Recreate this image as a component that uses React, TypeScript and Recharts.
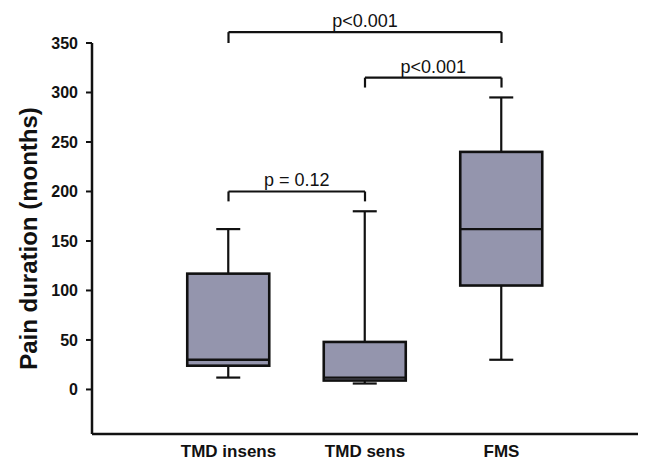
import { ComposedChart, Bar, XAxis, YAxis, ReferenceLine, Label } from "recharts";

// box plot summary per group (months)
const groups = ["TMD insens", "TMD sens", "FMS"];
const whiskerLow = [12, 6, 30];
const quartile1 = [24, 9, 105];
const medians = [30, 12, 162];
const quartile3 = [117, 48, 240];
const whiskerHigh = [162, 180, 295];
const yTicks = [0, 50, 100, 150, 200, 250, 300, 350];

// significance brackets: group positions (1-based), bracket top and foot in months
const comparisons = [
  { from: 1, to: 3, top: 361, foot: 350, text: "p<0.001" },
  { from: 2, to: 3, top: 315, foot: 305, text: "p<0.001" },
  { from: 1, to: 2, top: 200, foot: 190, text: "p = 0.12" },
];

const boxData = groups.map((name, i) => ({
  pos: i + 1,
  name,
  lo: whiskerLow[i],
  q1: quartile1[i],
  med: medians[i],
  q3: quartile3[i],
  hi: whiskerHigh[i],
}));

const font = "'Liberation Sans', Arial, Helvetica, sans-serif";
const ink = "#111";
const boxFill = "#9495ad";

const BoxShape = (props: any) => {
  const { x, y, width, height, payload } = props;
  const { lo, q1, med, q3, hi } = payload;
  // range bar spans q1..q3, so the scale is linear between them
  const k = height / (q3 - q1);
  const py = (v: number) => y + (q3 - v) * k;
  const cx = x + width / 2;
  const cap = 12;
  return (
    <g stroke={ink} strokeWidth={2.2}>
      <line x1={cx} x2={cx} y1={py(hi)} y2={y} />
      <line x1={cx} x2={cx} y1={y + height} y2={py(lo)} />
      <line x1={cx - cap} x2={cx + cap} y1={py(hi)} y2={py(hi)} />
      <line x1={cx - cap} x2={cx + cap} y1={py(lo)} y2={py(lo)} />
      <rect x={x} y={y} width={width} height={height} fill={boxFill} strokeWidth={2.6} />
      <line x1={x} x2={x + width} y1={py(med)} y2={py(med)} strokeWidth={2.4} />
    </g>
  );
};

const bracketLines = comparisons.flatMap((c, i) => [
  <ReferenceLine
    key={`h${i}`}
    segment={[{ x: c.from, y: c.top }, { x: c.to, y: c.top }]}
    stroke={ink}
    strokeWidth={2.2}
    ifOverflow="visible"
    label={{ value: c.text, position: "top", fill: ink, fontSize: 18, fontFamily: font }}
  />,
  <ReferenceLine
    key={`l${i}`}
    segment={[{ x: c.from, y: c.top }, { x: c.from, y: c.foot }]}
    stroke={ink}
    strokeWidth={2.2}
    ifOverflow="visible"
  />,
  <ReferenceLine
    key={`r${i}`}
    segment={[{ x: c.to, y: c.top }, { x: c.to, y: c.foot }]}
    stroke={ink}
    strokeWidth={2.2}
    ifOverflow="visible"
  />,
]);

export default function App() {
  return (
    <div style={{ width: 649, height: 462, background: "#fff" }}>
      <style>{"body{margin:0}"}</style>
      <ComposedChart
        width={649}
        height={462}
        data={boxData}
        margin={{ top: 43, right: 11, bottom: 0, left: 0 }}
      >
        <XAxis
          type="number"
          dataKey="pos"
          domain={[0, 4]}
          ticks={[1, 2, 3]}
          interval={0}
          tickFormatter={(v: number) => groups[v - 1]}
          tickLine={false}
          tickSize={6}
          tickMargin={5}
          height={28}
          axisLine={{ stroke: ink, strokeWidth: 2.5 }}
          tick={{ fill: ink, fontSize: 17, fontWeight: "bold", fontFamily: font }}
        />
        <YAxis
          type="number"
          domain={[-45, 350]}
          ticks={yTicks}
          interval={0}
          width={92}
          tickSize={6}
          tickMargin={8}
          axisLine={{ stroke: ink, strokeWidth: 2.5 }}
          tickLine={{ stroke: ink, strokeWidth: 2 }}
          tick={{ fill: ink, fontSize: 16, fontWeight: "bold", fontFamily: font }}
        >
          <Label
            value="Pain duration (months)"
            angle={-90}
            position="center"
            dx={-18}
            fill={ink}
            fontSize={24}
            fontWeight="bold"
            fontFamily={font}
          />
        </YAxis>
        <Bar
          dataKey={(d: any) => [d.q1, d.q3]}
          barSize={82}
          shape={<BoxShape />}
          isAnimationActive={false}
        />
        {bracketLines}
      </ComposedChart>
    </div>
  );
}
